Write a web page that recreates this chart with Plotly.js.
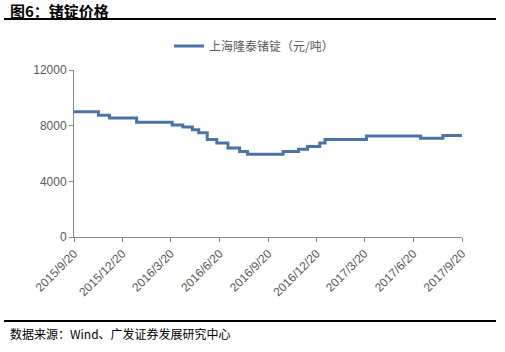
<!DOCTYPE html>
<html>
<head>
<meta charset="utf-8">
<script src="https://cdn.plot.ly/plotly-3.0.1.min.js"></script>
<style>html,body{margin:0;padding:0;background:#fff;}#chart{width:505px;height:352px;}</style>
</head>
<body>
<div id="chart"></div>
<script>
const seriesName = "上海隆泰锗锭（元/吨）";
const dates = ["2015-09-20","2015-11-05","2015-11-26","2016-01-16","2016-03-23","2016-04-12","2016-04-30","2016-05-12","2016-05-28","2016-06-15","2016-07-06","2016-07-28","2016-08-12","2016-10-18","2016-11-16","2016-12-03","2016-12-26","2017-01-05","2017-03-24","2017-07-04","2017-08-15","2017-09-20"];
const prices = [9000,8750,8550,8250,8050,7900,7700,7500,7000,6750,6400,6150,5950,6150,6300,6500,6750,7000,7250,7100,7300,7300];
const tickDates = ["2015-09-20","2015-12-20","2016-03-20","2016-06-20","2016-09-20","2016-12-20","2017-03-20","2017-06-20","2017-09-20"];
const tickLabels = ["2015/9/20","2015/12/20","2016/3/20","2016/6/20","2016/9/20","2016/12/20","2017/3/20","2017/6/20","2017/9/20"];
const yTickVals = [0, 4000, 8000, 12000];
const yTickLabels = ["0", "4000", "8000", "12000"];
const chartTitle = "图6：锗锭价格";
const sourceText = "数据来源：Wind、广发证券发展研究中心";

const font = "Liberation Sans, Arial, Noto Sans CJK SC, sans-serif";
const L = 74, R = 43, T = 70, B = 115;
const W = 505 - L - R, H = 352 - T - B;
const px = x => (x - L) / W;
const py = y => (352 - B - y) / H;

const trace = {
  x: dates, y: prices, type: "scatter", mode: "lines", name: seriesName,
  line: {shape: "hv", color: "#4A74A8", width: 3}
};
const layout = {
  width: 505, height: 352,
  margin: {l: L, r: R, t: T, b: B},
  paper_bgcolor: "#fff", plot_bgcolor: "#fff",
  font: {family: font, color: "#595959", size: 12},
  showlegend: true,
  legend: {orientation: "h", x: px(169), y: py(46), xanchor: "left", yanchor: "middle",
           font: {family: "Noto Sans CJK SC, sans-serif", size: 12, color: "#595959"}, bgcolor: "rgba(0,0,0,0)"},
  xaxis: {
    type: "date", range: ["2015-09-20", "2017-09-20"],
    tickvals: tickDates, ticktext: tickLabels, tickangle: -45,
    showline: true, linecolor: "#888", linewidth: 1, ticks: "outside", tickcolor: "#888", ticklen: 4,
    showgrid: false, zeroline: false, tickfont: {size: 12, color: "#595959"}
  },
  yaxis: {
    range: [0, 12000], tickvals: yTickVals, ticktext: yTickLabels,
    showline: true, linecolor: "#888", linewidth: 1, ticks: "outside", tickcolor: "#888", ticklen: 4,
    showgrid: false, zeroline: false, tickfont: {size: 12, color: "#595959"}
  },
  shapes: [
    {type: "line", xref: "paper", yref: "paper", x0: px(4), x1: px(496), y0: py(19), y1: py(19), line: {color: "#000", width: 2}},
    {type: "line", xref: "paper", yref: "paper", x0: px(4), x1: px(496), y0: py(321), y1: py(321), line: {color: "#000", width: 2}}
  ],
  annotations: [
    {text: "<b>" + chartTitle + "</b>", xref: "paper", yref: "paper", x: px(8), y: py(10), xanchor: "left", yanchor: "middle",
     showarrow: false, font: {family: "Noto Sans CJK SC, sans-serif", size: 15, color: "#000"}},
    {text: sourceText, xref: "paper", yref: "paper", x: px(8), y: py(333), xanchor: "left", yanchor: "middle",
     showarrow: false, font: {family: "Noto Sans CJK SC, sans-serif", size: 12, color: "#000"}}
  ]
};
Plotly.newPlot("chart", [trace], layout, {displayModeBar: false, staticPlot: true});
</script>
</body>
</html>
